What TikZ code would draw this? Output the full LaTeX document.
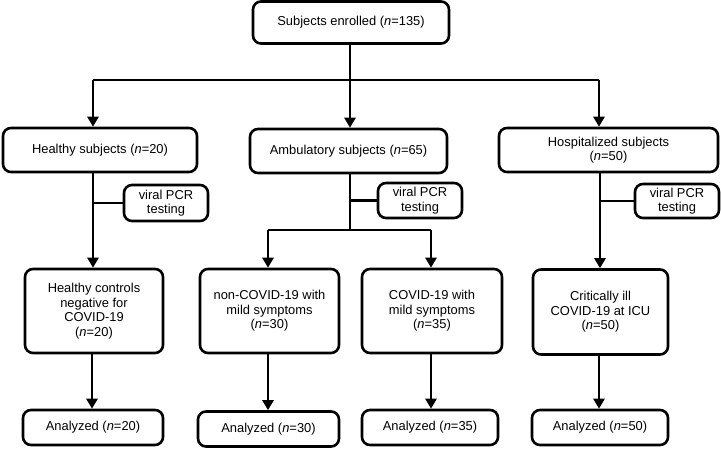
\documentclass[tikz,border=0pt]{standalone}
\usepackage{fontspec}
\setmainfont{Liberation Sans}
\usetikzlibrary{arrows.meta}
\tikzset{
  box/.style={draw=black, line width=2.6pt, rounded corners=8pt, fill=white, inner sep=0pt, align=center,
    font=\fontsize{12.9}{14.5}\selectfont},
  link/.style={line width=2.5pt},
  arr/.style={line width=2.5pt, -{Triangle[width=11pt,length=10pt]}},
}
\begin{document}
\begin{tikzpicture}[x=1pt,y=-1pt]
\useasboundingbox (0,0) rectangle (721,449);
% top
\node[box, minimum width=196pt, minimum height=42pt] (top) at (351,22.5) {Subjects enrolled (\textit{n}=135)};
% level 2
\node[box, minimum width=194pt, minimum height=44pt] (hs) at (100,150) {Healthy subjects (\textit{n}=20)};
\node[box, minimum width=197pt, minimum height=44pt] (as) at (348.5,151) {Ambulatory subjects (\textit{n}=65)};
\node[box, minimum width=219pt, minimum height=44pt] (hos) at (608.5,150) {Hospitalized subjects\\(\textit{n}=50)};
% pcr boxes
\node[box, minimum width=84pt, minimum height=36pt] (p1) at (166,203) {viral PCR\\testing};
\node[box, minimum width=84pt, minimum height=35pt] (p2) at (420,200.5) {viral PCR\\testing};
\node[box, minimum width=84pt, minimum height=34pt] (p3) at (677,201) {viral PCR\\testing};
% level 3
\node[box, minimum width=138pt, minimum height=84pt] (hc) at (94,311) {Healthy controls\\negative for\\COVID-19\\(\textit{n}=20)};
\node[box, minimum width=139pt, minimum height=84pt] (nc) at (269.5,311) {non-COVID-19 with\\mild symptoms\\(\textit{n}=30)};
\node[box, minimum width=140pt, minimum height=84pt] (cc) at (432,311) {COVID-19 with\\mild symptoms\\(\textit{n}=35)};
\node[box, minimum width=135pt, minimum height=85pt] (ci) at (600.5,312) {Critically ill\\COVID-19 at ICU\\(\textit{n}=50)};
% analyzed
\node[box, minimum width=140pt, minimum height=35pt] (a1) at (93,427.5) {Analyzed (\textit{n}=20)};
\node[box, minimum width=141pt, minimum height=35pt] (a2) at (268.5,429) {Analyzed (\textit{n}=30)};
\node[box, minimum width=136pt, minimum height=35pt] (a3) at (430,427.5) {Analyzed (\textit{n}=35)};
\node[box, minimum width=136pt, minimum height=35pt] (a4) at (600,427.5) {Analyzed (\textit{n}=50)};
% connectors from top
\coordinate (tj) at (350,80);
\coordinate (tl) at (93,80);
\coordinate (tr) at (599,80);
\draw[link] (top.south -| tj) -- (tj);
\draw[link] (tl) -- (tr);
\draw[arr] (tl) -- (tl |- hs.north);
\draw[arr] (tj) -- (tj |- as.north);
\draw[arr] (tr) -- (tr |- hos.north);
% healthy branch
\draw[arr] (hs.south -| 93,0) -- (hc.north -| 93,0);
\draw[link] (93,0 |- p1.west) -- (p1.west);
% ambulatory branch
\coordinate (aj) at (350,230);
\draw[link] (as.south -| aj) -- (aj);
\draw[link] (p2.west) -- (p2.west -| aj);
\draw[link] (268,230) -- (431,230);
\draw[arr] (268,230) -- (nc.north -| 268,0);
\draw[arr] (431,230) -- (cc.north -| 431,0);
% hospitalized branch
\draw[arr] (hos.south -| 600,0) -- (ci.north -| 600,0);
\draw[link] (p3.west) -- (p3.west -| 600,0);
% to analyzed
\draw[arr] (hc.south -| 92,0) -- (a1.north -| 92,0);
\draw[arr] (nc.south -| 268,0) -- (a2.north -| 268,0);
\draw[arr] (cc.south -| 431,0) -- (a3.north -| 431,0);
\draw[arr] (ci.south -| 599,0) -- (a4.north -| 599,0);
\end{tikzpicture}
\end{document}
